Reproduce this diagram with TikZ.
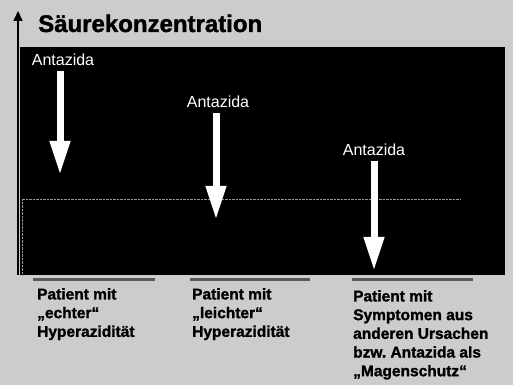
\documentclass[tikz,border=0pt]{standalone}
\usepackage{fontspec}
\setmainfont{Liberation Sans}
\newfontface\heavyfont{Liberation Sans Bold}[FakeBold=1.5]
\usetikzlibrary{arrows.meta}

\begin{document}
\begin{tikzpicture}[x=1pt, y=1pt,
  dose/.style = {text=white, font=\fontsize{16}{19}\selectfont, inner sep=1pt},
  push/.style = {white, line width=7pt, shorten <=4pt, -{Triangle[length=34pt, width=19pt]}},
  patient/.style = {anchor=north west, inner sep=0pt, align=left, font=\heavyfont\fontsize{15.5}{18.7}\selectfont},
  bar/.style = {black!65, line width=3pt}]
\useasboundingbox (0,0) rectangle (513,385);
\fill[black!20] (0,0) rectangle (513,385);
\fill[black] (20,110) rectangle (505,338);
% level line
\draw[black!40, densely dotted, thin] (22,110) -- (22,186) -- (460,186);
% axis
\path (18,110) coordinate (origin);
\path (18,374) coordinate (top);
\draw[line width=2pt, -{Triangle[length=10pt, width=9pt]}] (origin) -- (top);
\path (38,353) node[anchor=base west, inner sep=0pt, font=\heavyfont\fontsize{24}{28}\selectfont] (title) {Säurekonzentration};

% Antazida arrows
\path (63,325) node[dose] (doseA) {Antazida};
\path (60,210) coordinate (tipA);
\draw[push] (doseA.south -| tipA) -- (tipA);
\path (218,283) node[dose] (doseB) {Antazida};
\path (216,165) coordinate (tipB);
\draw[push] (doseB.south -| tipB) -- (tipB);
\path (374,235) node[dose] (doseC) {Antazida};
\path (374,114) coordinate (tipC);
\draw[push] (doseC.south -| tipC) -- (tipC);

% patient groups
\draw[bar] (33,105) -- (155,105);
\draw[bar] (190,105) -- (310,105);
\draw[bar] (352,105) -- (473,105);
\path (37,97) node[patient] (groupA) {Patient mit\\„echter“\\Hyperazidität};
\path (192,97) node[patient] (groupB) {Patient mit\\„leichter“\\Hyperazidität};
\path (353,95) node[patient] (groupC) {Patient mit\\Symptomen aus\\anderen Ursachen\\bzw.\ Antazida als\\„Magenschutz“};
\end{tikzpicture}
\end{document}
